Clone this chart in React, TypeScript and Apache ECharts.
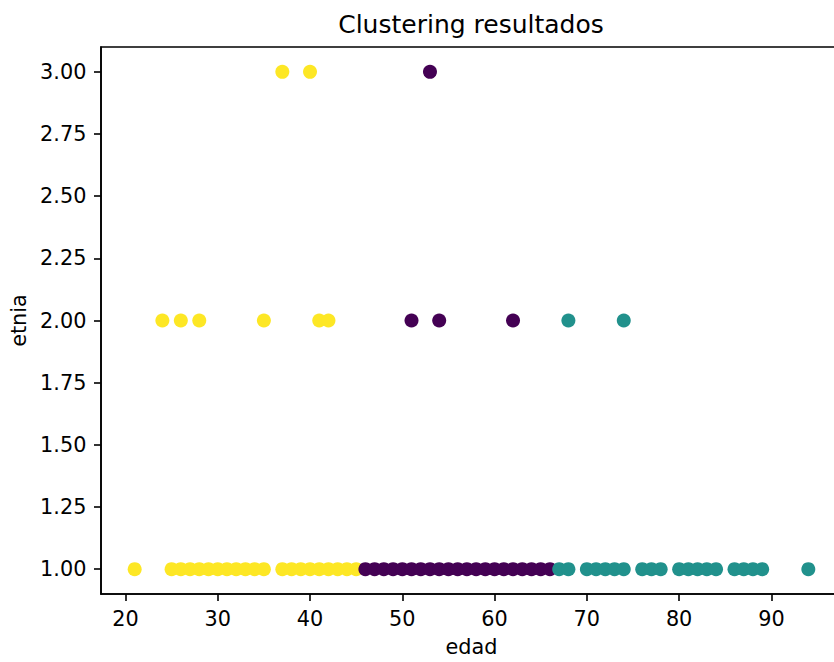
import React, { useEffect, useRef } from "react";
import * as echarts from "echarts";

// Cluster points (edad, etnia)
const yellowEdad = [21, 25, 26, 27, 28, 29, 30, 31, 32, 33, 34, 35, 37, 38, 39, 40, 41, 42, 43, 44, 45, 24, 26, 28, 35, 41, 42, 37, 40];
const yellowEtnia = [1, 1, 1, 1, 1, 1, 1, 1, 1, 1, 1, 1, 1, 1, 1, 1, 1, 1, 1, 1, 1, 2, 2, 2, 2, 2, 2, 3, 3];

const purpleEdad = [46, 47, 48, 49, 50, 51, 52, 53, 54, 55, 56, 57, 58, 59, 60, 61, 62, 63, 64, 65, 66, 51, 54, 62, 53];
const purpleEtnia = [1, 1, 1, 1, 1, 1, 1, 1, 1, 1, 1, 1, 1, 1, 1, 1, 1, 1, 1, 1, 1, 2, 2, 2, 3];

const tealEdad = [67, 68, 70, 71, 72, 73, 74, 76, 77, 78, 80, 81, 82, 83, 84, 86, 87, 88, 89, 94, 68, 74];
const tealEtnia = [1, 1, 1, 1, 1, 1, 1, 1, 1, 1, 1, 1, 1, 1, 1, 1, 1, 1, 1, 1, 2, 2];

const xTicks = [20, 30, 40, 50, 60, 70, 80, 90];
const yTicks = [1.0, 1.25, 1.5, 1.75, 2.0, 2.25, 2.5, 2.75, 3.0];

const pairs = (xs: number[], ys: number[]) => xs.map((x, i) => [x, ys[i]]);

const FONT = "DejaVu Sans";

export default function App() {
  const ref = useRef<HTMLDivElement>(null);
  useEffect(() => {
    if (!ref.current) return;
    const chart = echarts.init(ref.current, undefined, { renderer: "svg" });
    const axisText = { color: "#000", fontFamily: FONT, fontSize: 20.8 };
    chart.setOption({
      animation: false,
      backgroundColor: "#fff",
      title: {
        text: "Clustering resultados",
        left: 471,
        top: 12,
        padding: 0,
        textAlign: "center",
        textStyle: { color: "#000", fontFamily: FONT, fontSize: 25, fontWeight: "normal" },
      },
      grid: {
        left: 100,
        top: 47,
        width: 742,
        height: 553,
        show: true,
        borderColor: "#000",
        borderWidth: 1.6,
        backgroundColor: "#fff",
      },
      xAxis: {
        type: "value",
        min: 17.35,
        max: 97.65,
        name: "edad",
        nameLocation: "middle",
        nameGap: 42,
        nameTextStyle: axisText,
        splitLine: { show: false },
        axisLine: { show: true, lineStyle: { color: "#000", width: 1.6 } },
        axisTick: { show: true, length: 7, customValues: xTicks, lineStyle: { color: "#000", width: 1.6 } },
        axisLabel: { ...axisText, margin: 14.6, customValues: xTicks, formatter: (v: number) => String(v) },
      },
      yAxis: {
        type: "value",
        min: 0.9,
        max: 3.1,
        name: "etnia",
        nameLocation: "middle",
        nameGap: 72,
        nameRotate: 90,
        nameTextStyle: axisText,
        splitLine: { show: false },
        axisLine: { show: true, lineStyle: { color: "#000", width: 1.6 } },
        axisTick: { show: true, length: 7, customValues: yTicks, lineStyle: { color: "#000", width: 1.6 } },
        axisLabel: { ...axisText, margin: 14.6, customValues: yTicks, formatter: (v: number) => v.toFixed(2) },
      },
      series: [
        {
          type: "scatter",
          name: "yellow",
          data: pairs(yellowEdad, yellowEtnia),
          symbol: "circle",
          symbolSize: 14,
          itemStyle: { color: "#fde725", opacity: 1 },
        },
        {
          type: "scatter",
          name: "purple",
          data: pairs(purpleEdad, purpleEtnia),
          symbol: "circle",
          symbolSize: 14,
          itemStyle: { color: "#440154", opacity: 1 },
        },
        {
          type: "scatter",
          name: "teal",
          data: pairs(tealEdad, tealEtnia),
          symbol: "circle",
          symbolSize: 14,
          itemStyle: { color: "#21918c", opacity: 1 },
        },
      ],
    });
    return () => chart.dispose();
  }, []);
  return (
    <div style={{ position: "fixed", left: 0, top: 0, width: 834, height: 662, overflow: "hidden", background: "#fff" }}>
      <div ref={ref} style={{ width: 860, height: 662 }} />
    </div>
  );
}
